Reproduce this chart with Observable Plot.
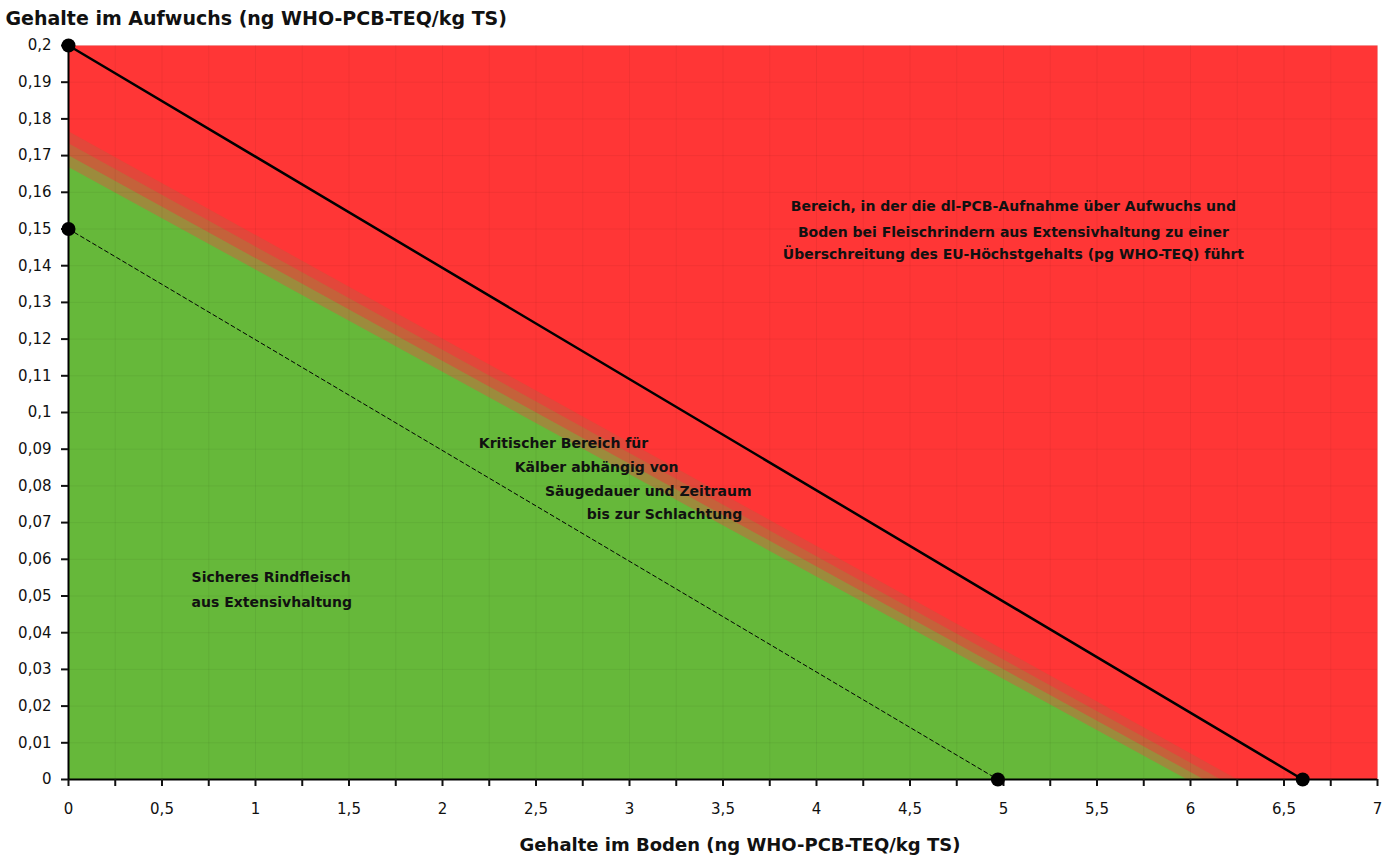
<!DOCTYPE html>
<html>
<head>
<meta charset="utf-8">
<script src="https://cdn.jsdelivr.net/npm/d3@7"></script>
<script src="https://cdn.jsdelivr.net/npm/@observablehq/plot@0.6"></script>
<style>
  html, body { margin: 0; padding: 0; background: #fff; }
  #chart svg { display: block; }
</style>
</head>
<body>
<div id="chart"></div>
<script>
// ---------- data ----------
const xTicks = [0, 0.25, 0.5, 0.75, 1, 1.25, 1.5, 1.75, 2, 2.25, 2.5, 2.75, 3, 3.25, 3.5, 3.75, 4, 4.25, 4.5, 4.75, 5, 5.25, 5.5, 5.75, 6, 6.25, 6.5, 6.75, 7];
const xLabels = [0, 0.5, 1, 1.5, 2, 2.5, 3, 3.5, 4, 4.5, 5, 5.5, 6, 6.5, 7];
const yTicks = [0, 0.01, 0.02, 0.03, 0.04, 0.05, 0.06, 0.07, 0.08, 0.09, 0.1, 0.11, 0.12, 0.13, 0.14, 0.15, 0.16, 0.17, 0.18, 0.19, 0.2];

// Zonen: Schnittpunkt mit der y-Achse und mit der x-Achse (von oben nach unten gezeichnet)
const zoneNames = ["Übergang 3", "Übergang 2", "Übergang 1", "Sicher"];
const zoneYIntercept = [0.1766, 0.1733, 0.1700, 0.1668];
const zoneXIntercept = [6.25, 6.16, 6.07, 5.98];

// Grenzlinien
const limitLine = [{x: 0, y: 0.2}, {x: 6.6, y: 0}];
const calfLine = [{x: 0, y: 0.15}, {x: 4.97, y: 0}];
const endPoints = [...limitLine, ...calfLine];

// Beschriftungen (Datenkoordinaten)
const redText = ["Bereich, in der die dl-PCB-Aufnahme über Aufwuchs und",
                 "Boden bei Fleischrindern aus Extensivhaltung zu einer",
                 "Überschreitung des EU-Höchstgehalts (pg WHO-TEQ) führt"];
const redTextX = [5.053, 5.053, 5.053];
const redTextY = [0.1561, 0.1491, 0.1431];

const midText = ["Kritischer Bereich für", "Kälber abhängig von", "Säugedauer und Zeitraum", "bis zur Schlachtung"];
const midTextX = [2.647, 2.824, 3.10, 3.187];
const midTextY = [0.0916, 0.0850, 0.0785, 0.0722];

const greenText = ["Sicheres Rindfleisch", "aus Extensivhaltung"];
const greenTextX = [0.658, 0.658];
const greenTextY = [0.0550, 0.0482];

const yTitle = "Gehalte im Aufwuchs (ng WHO-PCB-TEQ/kg TS)";
const xTitle = "Gehalte im Boden (ng WHO-PCB-TEQ/kg TS)";

// ---------- styles ----------
const RED = "#ff3636";
const zoneColors = ["#e2473a", "#c4623a", "#9c8b3c", "#66b83a"];
const FONT = "'DejaVu Sans', sans-serif";

const fmt = d => String(d).replace(".", ",");

const zones = zoneNames.map((n, i) => [
  {zone: n, x: 0, y: zoneYIntercept[i]},
  {zone: n, x: zoneXIntercept[i], y: 0}
]);

const labelRows = (texts, xs, ys) => texts.map((t, i) => ({t, x: xs[i], y: ys[i]}));

const chart = Plot.plot({
  width: 1382,
  height: 857,
  marginLeft: 68,
  marginRight: 5,
  marginTop: 45,
  marginBottom: 78,
  style: {fontFamily: FONT, fontSize: "15px", color: "#111", background: "#fff"},
  x: {domain: [xTicks[0], xTicks[xTicks.length - 1]]},
  y: {domain: [yTicks[0], yTicks[yTicks.length - 1]]},
  marks: [
    Plot.frame({fill: RED, stroke: null}),
    ...zones.map((z, i) => Plot.areaY(z, {x: "x", y: "y", fill: zoneColors[i]})),
    Plot.gridX(xTicks, {stroke: "#000", strokeOpacity: 0.05}),
    Plot.gridY(yTicks, {stroke: "#000", strokeOpacity: 0.05}),
    Plot.line(calfLine, {x: "x", y: "y", stroke: "#000", strokeWidth: 1, strokeDasharray: "4,3"}),
    Plot.line(limitLine, {x: "x", y: "y", stroke: "#000", strokeWidth: 2.5}),
    Plot.ruleX([xTicks[0]], {stroke: "#000", strokeWidth: 2}),
    Plot.ruleY([yTicks[0]], {stroke: "#000", strokeWidth: 2}),
    Plot.axisX({ticks: xTicks, tickSize: 7, tickPadding: 17, strokeWidth: 2,
      tickFormat: d => xLabels.includes(d) ? fmt(d) : "", label: null, fontSize: 15}),
    Plot.axisY({ticks: yTicks, tickSize: 7, tickPadding: 10, strokeWidth: 2,
      tickFormat: fmt, label: null, fontSize: 15}),
    Plot.dot(endPoints, {x: "x", y: "y", r: 7, fill: "#000"}),
    Plot.text(labelRows(redText, redTextX, redTextY), {x: "x", y: "y", text: "t", fontWeight: "bold", fontSize: 14, fill: "#111"}),
    Plot.text(labelRows(midText, midTextX, midTextY), {x: "x", y: "y", text: "t", fontWeight: "bold", fontSize: 14, fill: "#111"}),
    Plot.text(labelRows(greenText, greenTextX, greenTextY), {x: "x", y: "y", text: "t", textAnchor: "start", fontWeight: "bold", fontSize: 14, fill: "#111"}),
    Plot.text([yTitle], {frameAnchor: "top-left", dx: -63, dy: -27, lineAnchor: "middle", textAnchor: "start", fontWeight: "bold", fontSize: 19, fill: "#111"}),
    Plot.text([xTitle], {frameAnchor: "bottom", dx: 17, dy: 66, lineAnchor: "middle", fontWeight: "bold", fontSize: 18, fill: "#111"})
  ]
});
document.getElementById("chart").appendChild(chart);
</script>
</body>
</html>
